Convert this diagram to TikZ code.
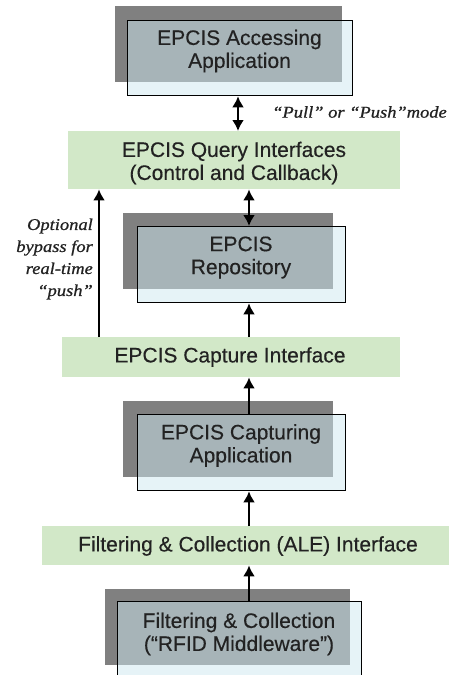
\documentclass[tikz,border=0pt]{standalone}
\usepackage{fontspec}
\setmainfont{Liberation Sans}
\newfontfamily\boxfont{Liberation Sans}[FakeBold=0.35]
\newfontfamily\serifit{Liberation Serif}[FakeBold=0.8,FakeStretch=1.12]
\usetikzlibrary{arrows.meta}
\definecolor{gback}{RGB}{128,128,128}
\definecolor{lbox}{RGB}{206,233,241}
\definecolor{ifgreen}{RGB}{210,232,200}
\definecolor{txt}{RGB}{34,34,34}
\begin{document}
\begin{tikzpicture}[x=1pt,y=-1pt,
  back/.style={fill=gback,draw=none,inner sep=0pt,anchor=north west},
  front/.style={fill=lbox,fill opacity=0.5,draw=black,line width=1.3pt,inner sep=0pt,anchor=north west},
  iface/.style={fill=ifgreen,draw=none,inner sep=0pt,anchor=north west},
  lbl/.style={font=\boxfont\fontsize{21}{23}\selectfont,text=txt,align=center,inner sep=0pt},
  note/.style={font=\serifit\itshape\fontsize{16.5}{22}\selectfont,text=txt,inner sep=0pt},
  arr/.style={-{Latex[length=11pt,width=12pt]},line width=2.2pt},
  dbl/.style={{Latex[length=11pt,width=12pt]}-{Latex[length=11pt,width=12pt]},line width=2.2pt}]
\useasboundingbox (0,0) rectangle (449,675);
\clip (0,0) rectangle (449,675);
\fill[white] (0,0) rectangle (449,675);

% EPCIS Accessing Application
\node[back,minimum width=227pt,minimum height=76pt] (accB) at (115,6) {};
\node[front,minimum width=225pt,minimum height=75pt] (acc) at (127,20) {};
\node[lbl] (accT) at (239.5,51) {EPCIS Accessing\\Application};

% Query interfaces
\node[iface,minimum width=332pt,minimum height=58pt] (query) at (68,131) {};
\node[lbl] (queryT) at (234,163) {EPCIS Query Interfaces\\(Control and Callback)};

% Repository
\node[back,minimum width=210pt,minimum height=76pt] (repoB) at (123,213) {};
\node[front,minimum width=208pt,minimum height=76pt] (repo) at (137,226) {};
\node[lbl] (repoT) at (241,257.5) {EPCIS\\Repository};

% Capture interface
\node[iface,minimum width=338pt,minimum height=40pt] (cap) at (62,337) {};
\node[lbl] (capT) at (230,357) {EPCIS Capture Interface};

% Capturing application
\node[back,minimum width=210pt,minimum height=76pt] (appB) at (123,401) {};
\node[front,minimum width=208pt,minimum height=76pt] (app) at (137,414) {};
\node[lbl] (appT) at (241,445.5) {EPCIS Capturing\\Application};

% ALE interface
\node[iface,minimum width=407pt,minimum height=39pt] (ale) at (42,526) {};
\node[lbl] (aleT) at (248,546) {Filtering \& Collection (ALE) Interface};

% Middleware
\node[back,minimum width=245pt,minimum height=76pt] (mwB) at (105,589) {};
\node[front,minimum width=244pt,minimum height=90pt] (mw) at (117,601) {};
\node[lbl] (mwT) at (239,634) {Filtering \& Collection\\(“RFID Middleware”)};

% connectors
\draw[dbl] (acc.south -| 238,0) -- (query.north -| 238,0);
\draw[dbl] (query.south -| 249,0) -- (repo.north -| 249,0);
\draw[arr] (cap.north -| 249,0) -- (repo.south -| 249,0);
\draw[arr] (cap.north -| 99,0) -- (query.south -| 99,0);
\draw[arr] (app.north -| 249,0) -- (cap.south -| 249,0);
\draw[arr] (ale.north -| 249,0) -- (app.south -| 249,0);
\draw[arr] (mw.north -| 249,0) -- (ale.south -| 249,0);

% notes
\node[note,anchor=west] (pp) at (272,112) {“Pull” or “Push”mode};
\node[note,anchor=east,align=right] (byp) at (93,259) {Optional\\bypass for\\real-time\\“push”};
\end{tikzpicture}
\end{document}
